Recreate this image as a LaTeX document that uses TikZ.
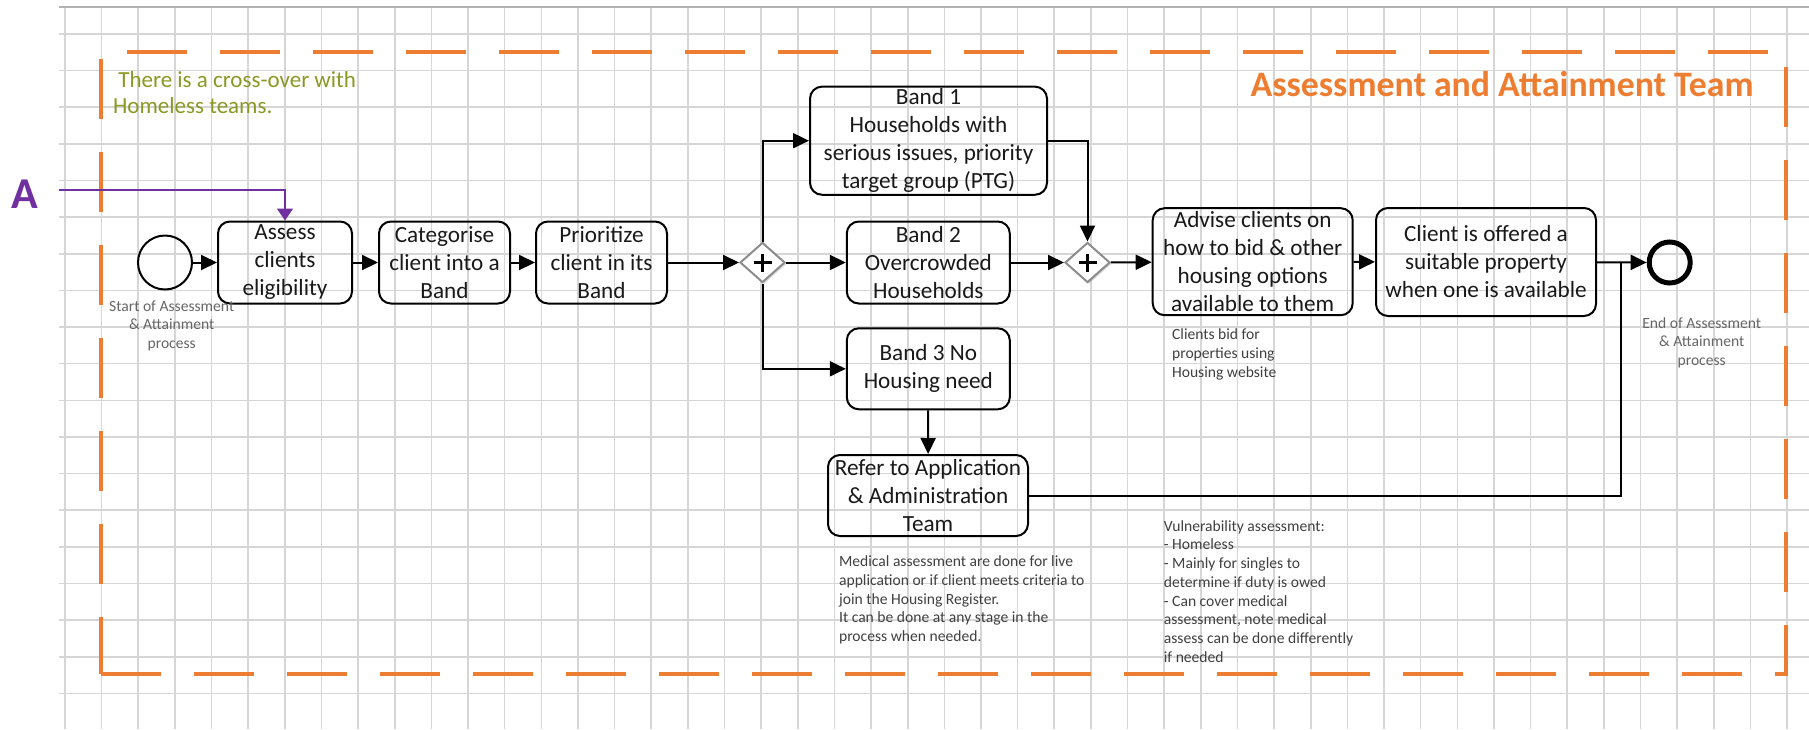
\documentclass[tikz,border=0pt]{standalone}
\usepackage{fontspec}
\setmainfont{Carlito}
\usetikzlibrary{arrows.meta,shapes.geometric,shadows}

\definecolor{laneorange}{RGB}{237,125,49}
\definecolor{notegreen}{RGB}{140,152,36}
\definecolor{linkpurple}{RGB}{112,48,160}
\definecolor{gridgray}{RGB}{214,214,214}

\begin{document}
\begin{tikzpicture}[x=0.5pt,y=-0.5pt,
    task/.style={draw, line width=1pt, rounded corners=6pt, align=center, inner sep=1pt, text=black!90, font=\fontsize{11.6}{14}\selectfont},
    gate/.style={diamond, draw=black!45, line width=1pt, fill=white, minimum width=22.5pt, minimum height=20pt, inner sep=0pt,
        drop shadow={shadow xshift=0.8pt, shadow yshift=-0.8pt, opacity=0.3},
        path picture={
            \draw[black, line width=1.7pt] ([xshift=-4.5pt]path picture bounding box.center) -- ([xshift=4.5pt]path picture bounding box.center);
            \draw[black, line width=1.7pt] ([yshift=-4.5pt]path picture bounding box.center) -- ([yshift=4.5pt]path picture bounding box.center);}},
    flow/.style={line width=1pt, -{Triangle[length=8pt,width=7.5pt]}},
    note/.style={align=left, inner sep=0pt, text=black!75, font=\fontsize{7.8}{9.35}\selectfont},
    gridline/.style={draw=gridgray, line width=0.8pt}]

        \useasboundingbox (0,0) rectangle (1809,729);
        \fill[white] (0,0) rectangle (1809,729);

        % sheet grid
        \foreach \i in {0,...,47}
            \draw[gridline] ({65+36.64*\i},7.3) -- ({65+36.64*\i},729);
        \foreach \j in {0,...,18}
            \draw[gridline] (59,{34+36.63*\j}) -- (1809,{34+36.63*\j});
        \draw[draw=black!30, line width=0.9pt] (59,7.3) -- (1809,7.3);

        % lane
        \draw[laneorange, line width=1.8pt, dash pattern=on 30pt off 16.5pt] (101,674) -- (1785.7,674) -- (1785.7,51.7) -- (101,51.7) -- cycle;
        \node[anchor=base east, inner sep=0pt, text=laneorange, font=\fontsize{17.9}{20}\selectfont\bfseries] (lanetitle) at (1754,96.7) {Assessment and Attainment Team};
        \node[anchor=north west, inner sep=0pt, align=left, text=notegreen, font=\fontsize{11.5}{13}\selectfont] (crossnote) at (112.7,71) {\ There is a cross-over with\\Homeless teams.};

        % entry from A
        \node[inner sep=0pt, text=linkpurple, font=\fontsize{22}{24}\selectfont\bfseries] (linkA) at (25,194) {A};
        \coordinate (linkstart) at (59,190);

        \node[circle, draw, line width=1pt, minimum size=27pt] (start) at (165,262.5) {};
        \node[task, minimum width=67pt, minimum height=41pt] (assess) at (285,262.5) {Assess\\clients\\eligibility};
        \node[task, minimum width=65.5pt, minimum height=41pt] (categ) at (444.5,262.5) {Categorise\\client into a\\Band};
        \node[task, minimum width=65.5pt, minimum height=41pt] (prior) at (601.5,262.5) {Prioritize\\client in its\\Band};
        \node[gate] (gw1) at (762.5,262.5) {};

        \node[task, minimum width=118.5pt, minimum height=52.5pt] (band1) at (928.5,140.7) {Band 1\\Households with\\serious issues, priority\\target group (PTG)};
        \node[task, minimum width=81.5pt, minimum height=41pt] (band2) at (928.3,262.5) {Band 2\\Overcrowded\\Households};
        \node[task, minimum width=81.5pt, minimum height=40.5pt] (band3) at (928.3,368.8) {Band 3 No\\Housing need};
        \node[task, minimum width=100pt, minimum height=40.5pt] (refer) at (928,495.5) {Refer to Application\\\& Administration\\Team};
        \node[gate] (gw2) at (1087.5,262.5) {};

        \node[task, minimum width=100pt, minimum height=53.5pt] (advise) at (1252.7,261.7) {Advise clients on\\how to bid \& other\\housing options\\available to them};
        \node[task, minimum width=110pt, minimum height=54pt] (client) at (1486,262) {Client is offered a\\suitable property\\when one is available};
        \node[circle, draw, line width=2.5pt, minimum size=20.5pt] (finish) at (1669.7,262.5) {};
        \coordinate (join) at (1620.7,262.5);

        % notes
        \node[note, align=center, text=black!60] (startlbl) at (171.7,325.7) {Start of Assessment\\\& Attainment\\process};
        \node[note, align=center, text=black!60] (endlbl) at (1701.7,342.7) {End of Assessment\\\& Attainment\\process};
        \node[note, anchor=west] (bidnote) at (1171.7,354.3) {Clients bid for\\properties using\\Housing website};
        \node[note, anchor=west] (mednote) at (838.7,600) {Medical assessment are done for live\\application or if client meets criteria to\\join the Housing Register.\\It can be done at any stage in the\\process when needed.};
        \node[note, anchor=west] (vulnote) at (1163.5,591.3) {Vulnerability assessment:\\- Homeless\\- Mainly for singles to\\determine if duty is owed\\- Can cover medical\\assessment, note medical\\assess can be done differently\\if needed};

        % flows
        \draw[linkpurple, line width=0.8pt, -{Triangle[length=6pt,width=8pt]}] (linkstart) -| (assess.north);
        \draw[flow] (start) -- (assess);
        \draw[flow] (assess) -- (categ);
        \draw[flow] (categ) -- (prior);
        \draw[flow] (prior) -- (gw1);
        \draw[flow] (gw1.north) |- (band1.west);
        \draw[flow] (gw1) -- (band2);
        \draw[flow] (gw1.south) |- (band3.west);
        \draw[flow] (band1.east) -| (gw2.north);
        \draw[flow] (band2) -- (gw2);
        \draw[flow] (band3) -- (refer);
        \draw[flow] (gw2) -- (advise);
        \draw[flow] (advise) -- (client);
        \draw[flow] (client) -- (finish);
        \draw[line width=1pt] (refer.east) -| (join);
    \end{tikzpicture}
\end{document}
